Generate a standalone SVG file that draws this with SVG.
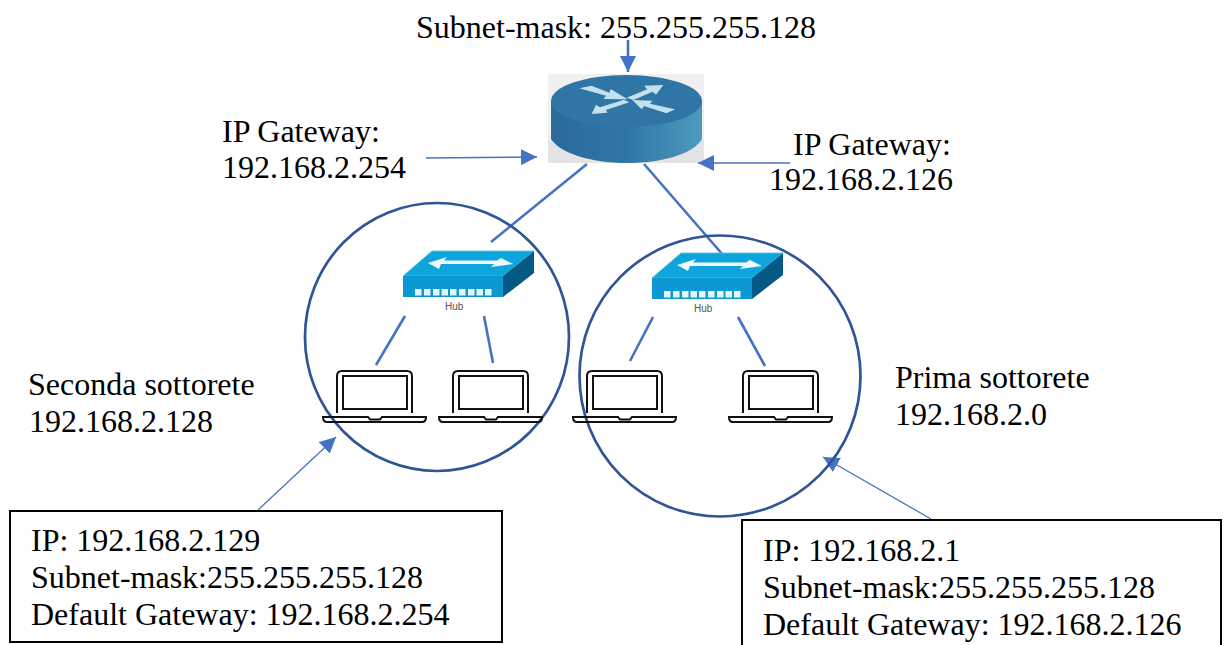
<svg xmlns="http://www.w3.org/2000/svg" width="1224" height="645" viewBox="0 0 1224 645">
<style>
text{font-family:"Liberation Serif","Times New Roman",serif;font-size:32px;fill:#000}
.c{fill:none;stroke:#2f5597;stroke-width:2.7}
.l{fill:none;stroke:#4472c4;stroke-width:2.6}
.t{fill:none;stroke:#4472c4;stroke-width:1.3}
.box{fill:#fff;stroke:#000;stroke-width:2}
.lap{fill:none;stroke:#111;stroke-width:2}
.hubl{font-family:"Liberation Sans",Arial,sans-serif;font-size:10px;fill:#555}
</style>
<defs>
<marker id="a" markerUnits="userSpaceOnUse" markerWidth="17" markerHeight="16" refX="16" refY="8" orient="auto"><path d="M0 0L16 8L0 16Z" fill="#4472c4"/></marker>
<linearGradient id="rs" x1="0" x2="1" y1="0" y2="0"><stop offset="0" stop-color="#2a6a9c"/><stop offset=".5" stop-color="#2f76a6"/><stop offset="1" stop-color="#4e9abf"/></linearGradient>
<g id="hub">
<path d="M0 46L29 21H131L100 46Z" fill="#0ea5dd" stroke="#45c8ef" stroke-width=".8"/>
<path d="M0 46H100V67H0Z" fill="#0c98d0"/>
<path d="M100 46L131 21V43L100 67Z" fill="#045a85"/>
<path d="M25 33L44 27L41 30.500H94L98 28L110 34L88 37L91 34H38L36 39Z" fill="#eef9fc"/>
<g fill="#e6f5fa"><rect x="12" y="59" width="6.500" height="6.500"/><rect x="21" y="59" width="6.500" height="6.500"/><rect x="30" y="59" width="6.500" height="6.500"/><rect x="38.500" y="59" width="6.500" height="6.500"/><rect x="47" y="59" width="6.500" height="6.500"/><rect x="56" y="59" width="6.500" height="6.500"/><rect x="65" y="59" width="6.500" height="6.500"/><rect x="73.500" y="59" width="6.500" height="6.500"/><rect x="82" y="59" width="6.500" height="6.500"/></g>
<text class="hubl" x="42" y="80">Hub</text>
</g>
<g id="laptop">
<path class="lap" d="M0 42V5Q0 0 5 0H70Q75 0 75 5V42"/>
<rect class="lap" x="6" y="5" width="64" height="33"/>
<path class="lap" d="M-14 46H31L33 48.500H43L45 46H89Q89 51 85 51H-10Q-14 51 -14 46Z"/>
</g>
</defs>
<g id="router">
<rect x="548" y="74" width="156" height="89" fill="#f0f0f0"/>
<path d="M548 140H704V163H548Z" fill="#e4e4e4"/>
<path d="M551 101V139C560 153 590 163 627 163C665 163 694 153 702 139V101Z" fill="url(#rs)"/>
<ellipse cx="626.500" cy="101" rx="75.500" ry="26" fill="#2f75a5"/>
<g transform="translate(520 40) scale(.3333)" fill="#c3e0ef">
<path d="M178 145L215 137L268 158L272 147L323 178L250 177L258 167Z"/>
<path d="M430 135L372 137L382 148L320 173L340 180L398 155L408 164Z"/>
<path d="M215 222L228 195L240 202L312 179L328 187L258 210L262 218Z"/>
<path d="M337 180L398 182L390 191L465 208L440 220L372 198L365 208Z"/>
</g>
</g>
<g id="connectors">
<path class="l" d="M628 40V72" marker-end="url(#a)"/>
<path class="t" d="M426 158L537 157" marker-end="url(#a)"/>
<path class="t" d="M790 163H698" marker-end="url(#a)"/>
<path class="l" d="M587 164L491 242"/>
<path class="l" d="M644 164L723 255"/>
<path class="l" d="M405 316L376 365"/>
<path class="l" d="M484 316L493 363"/>
<path class="l" d="M653 317L630 361"/>
<path class="l" d="M738 317L765 366"/>
<path class="t" d="M258 510L336 437" marker-end="url(#a)"/>
<path class="t" d="M931 519L823 457" marker-end="url(#a)"/>
</g>
<g id="subnet-2"><ellipse class="c" cx="437" cy="337" rx="132" ry="134"/></g>
<g id="subnet-1"><circle class="c" cx="720" cy="376" r="140.500"/></g>
<use id="hub-2" href="#hub" x="403" y="230"/>
<use id="hub-1" href="#hub" x="652" y="232"/>
<use id="laptop-1" href="#laptop" x="337" y="371"/>
<use id="laptop-2" href="#laptop" x="453" y="371"/>
<use id="laptop-3" href="#laptop" x="587" y="371"/>
<use id="laptop-4" href="#laptop" x="743" y="371"/>
<g id="labels">
<text x="416" y="38">Subnet-mask: 255.255.255.128</text>
<text x="222" y="142">IP Gateway:</text>
<text x="222" y="178">192.168.2.254</text>
<text x="793" y="155">IP Gateway:</text>
<text x="769" y="190">192.168.2.126</text>
<text x="28" y="395">Seconda sottorete</text>
<text x="29" y="432">192.168.2.128</text>
<text x="895" y="388">Prima sottorete</text>
<text x="895" y="425">192.168.2.0</text>
</g>
<g id="box-left">
<rect class="box" x="10" y="511" width="492" height="131"/>
<text x="31" y="551">IP: 192.168.2.129</text>
<text x="31" y="588">Subnet-mask:255.255.255.128</text>
<text x="31" y="625">Default Gateway: 192.168.2.254</text>
</g>
<g id="box-right">
<rect class="box" x="742" y="520" width="479" height="130"/>
<text x="763" y="561">IP: 192.168.2.1</text>
<text x="763" y="598">Subnet-mask:255.255.255.128</text>
<text x="763" y="635">Default Gateway: 192.168.2.126</text>
</g>
</svg>
